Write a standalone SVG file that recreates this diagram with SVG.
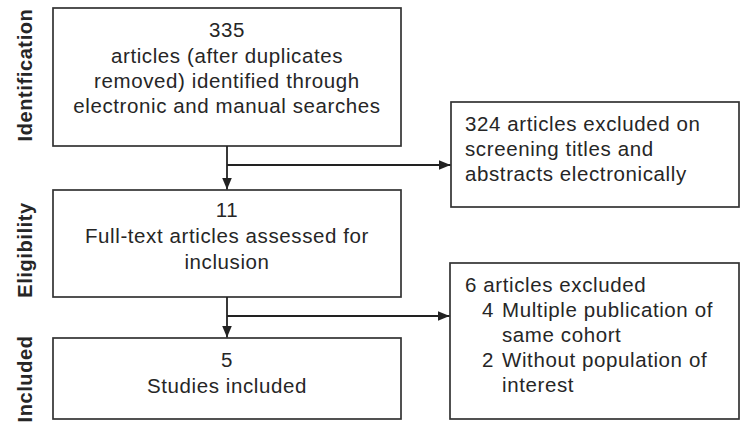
<svg xmlns="http://www.w3.org/2000/svg" width="741" height="428" viewBox="0 0 741 428">
<style>
  .box { fill: #ffffff; stroke: #333333; stroke-width: 1.7; }
  .t { font-family: "Liberation Sans", Arial, sans-serif; font-size: 20.5px; fill: #262626; letter-spacing: 0.6px; }
  .c { text-anchor: middle; }
  .side { font-family: "Liberation Sans", Arial, sans-serif; font-size: 20px; font-weight: bold; fill: #262626; text-anchor: middle; letter-spacing: 0.6px; }
  .conn { fill: none; stroke: #222222; stroke-width: 1.8; }
</style>
<defs>
  <marker id="arr" viewBox="0 0 12 10" refX="12" refY="5" markerWidth="12" markerHeight="10" markerUnits="userSpaceOnUse" orient="auto">
    <path d="M0,0 L12,5 L0,10 Z" fill="#222222"/>
  </marker>
</defs>
<rect width="741" height="428" fill="#ffffff"/>

<g id="labels">
  <text class="side" transform="translate(32,75) rotate(-90)">Identification</text>
  <text class="side" transform="translate(32,250) rotate(-90)">Eligibility</text>
  <text class="side" transform="translate(32,379) rotate(-90)">Included</text>
</g>

<g id="identified">
  <rect class="box" x="53" y="8" width="348" height="138"/>
  <text class="t c" x="227" y="37">335</text>
  <text class="t c" x="227" y="63">articles (after duplicates</text>
  <text class="t c" x="227" y="88">removed) identified through</text>
  <text class="t c" x="227" y="113">electronic and manual searches</text>
</g>

<g id="excluded1">
  <rect class="box" x="451" y="102" width="288" height="105"/>
  <text class="t" x="465" y="131">324 articles excluded on</text>
  <text class="t" x="465" y="156">screening titles  and</text>
  <text class="t" x="465" y="181">abstracts electronically</text>
</g>

<g id="eligibility">
  <rect class="box" x="53" y="190" width="348" height="107"/>
  <text class="t c" x="227" y="217">11</text>
  <text class="t c" x="227" y="243">Full-text articles assessed  for</text>
  <text class="t c" x="227" y="269">inclusion</text>
</g>

<g id="excluded2">
  <rect class="box" x="450" y="263" width="289" height="156"/>
  <text class="t" x="465" y="292">6 articles excluded</text>
  <text class="t" x="482" y="317">4</text>
  <text class="t" x="502" y="317">Multiple publication  of</text>
  <text class="t" x="502" y="342">same cohort</text>
  <text class="t" x="482" y="367">2</text>
  <text class="t" x="502" y="367">Without population  of</text>
  <text class="t" x="502" y="392">interest</text>
</g>

<g id="included">
  <rect class="box" x="53" y="338" width="348" height="81"/>
  <text class="t c" x="227" y="367">5</text>
  <text class="t c" x="227" y="393">Studies included</text>
</g>

<g id="connectors">
  <line class="conn" x1="227" y1="146" x2="227" y2="189.5" marker-end="url(#arr)"/>
  <line class="conn" x1="227" y1="165" x2="450.5" y2="165" marker-end="url(#arr)"/>
  <line class="conn" x1="227" y1="297" x2="227" y2="337.5" marker-end="url(#arr)"/>
  <line class="conn" x1="227" y1="316" x2="449.5" y2="316" marker-end="url(#arr)"/>
</g>
</svg>
